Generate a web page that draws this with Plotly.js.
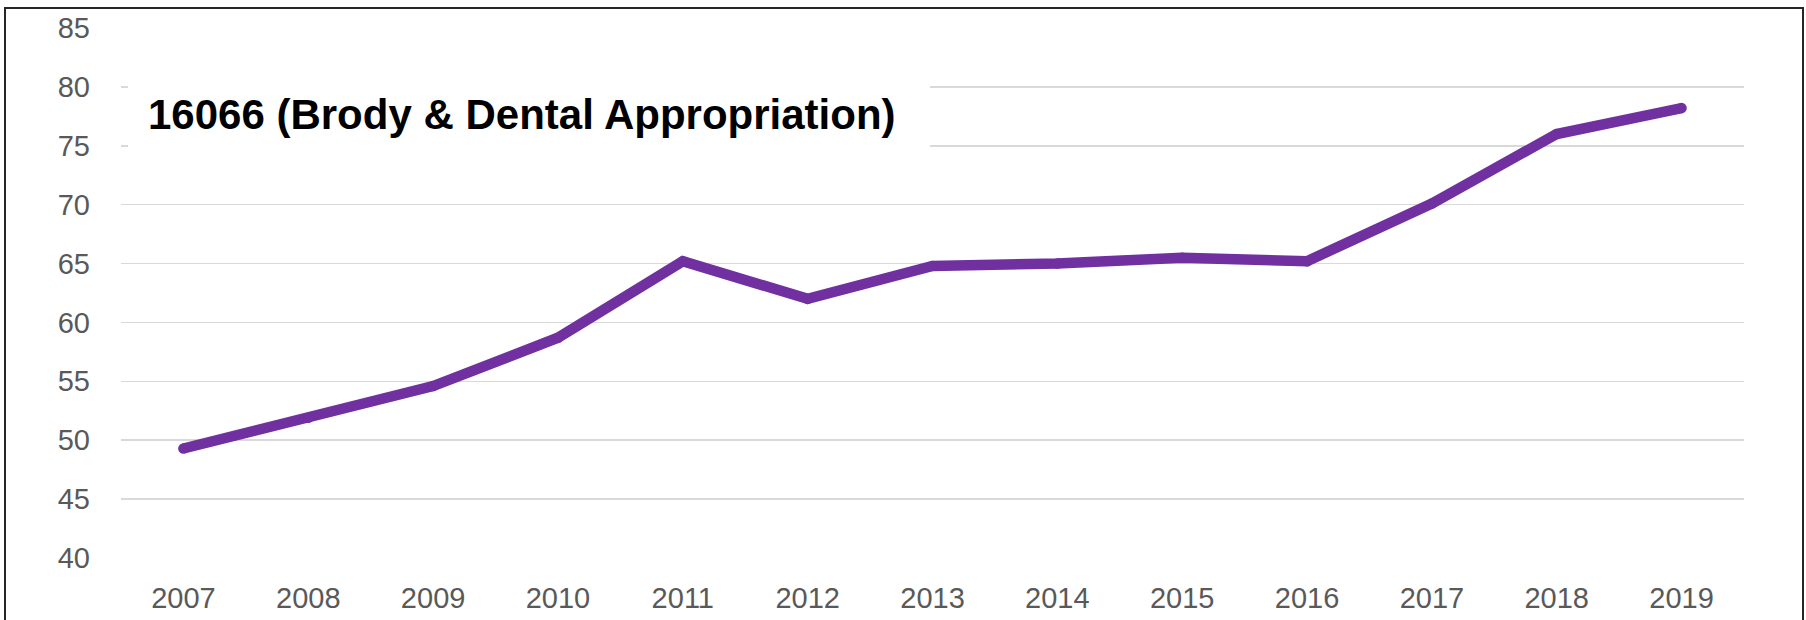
<!DOCTYPE html>
<html>
<head>
<meta charset="utf-8">
<script src="https://cdn.plot.ly/plotly-3.0.1.min.js"></script>
<style>html,body{margin:0;padding:0;background:#fff;}#chart{width:1806px;height:620px;}</style>
</head>
<body>
<div id="chart"></div>
<script>
const years = ['2007','2008','2009','2010','2011','2012','2013','2014','2015','2016','2017','2018','2019'];
const values = [49.3, 51.9, 54.6, 58.7, 65.2, 62.0, 64.8, 65.0, 65.5, 65.2, 70.1, 76.0, 78.2];
const yTicks = [40, 45, 50, 55, 60, 65, 70, 75, 80, 85];
const chartTitle = '16066 (Brody & Dental Appropriation)';

const L = 121, R = 1744, T = 28, B = 558, W = 1806, H = 620;
const pw = R - L, ph = B - T;
const px = x => (x - L) / pw;
const py = y => (B - y) / ph;

const trace = {
  x: years, y: values, type: 'scatter', mode: 'lines+markers',
  line: {color: '#7030A0', width: 10.5},
  marker: {color: '#7030A0', size: 10.5},
  hoverinfo: 'x+y', showlegend: false
};

const layout = {
  width: W, height: H,
  margin: {l: L, r: W - R, t: T, b: H - B, pad: 0},
  paper_bgcolor: '#ffffff', plot_bgcolor: '#ffffff',
  font: {family: 'Liberation Sans, Arial, sans-serif', color: '#595959', size: 29},
  xaxis: {
    type: 'category', range: [-0.5, 12.5], showgrid: false, zeroline: false,
    showline: false, ticks: '', ticklabelstandoff: 20, fixedrange: true,
    tickfont: {size: 29, color: '#595959'}
  },
  yaxis: {
    range: [40, 85], tickvals: yTicks, showgrid: true, gridcolor: '#d9d9d9', gridwidth: 1.5,
    zeroline: false, showline: false, ticks: '', ticklabelstandoff: 30, fixedrange: true,
    tickfont: {size: 29, color: '#595959'}
  },
  shapes: [
    {type: 'rect', xref: 'paper', yref: 'paper', layer: 'above',
     x0: px(128), x1: px(930), y0: py(172), y1: py(60),
     fillcolor: '#ffffff', line: {width: 0}},
    {type: 'rect', xref: 'paper', yref: 'paper', layer: 'above',
     x0: px(5), x1: px(1803), y0: py(700), y1: py(8),
     fillcolor: 'rgba(0,0,0,0)', line: {color: '#262626', width: 2}}
  ],
  annotations: [
    {text: '<b>' + chartTitle.replace('&', '&amp;') + '</b>', xref: 'paper', yref: 'paper',
     x: px(146), y: py(115), xanchor: 'left', yanchor: 'middle', showarrow: false,
     font: {family: 'Liberation Sans, Arial, sans-serif', size: 42, color: '#000000'}}
  ]
};

Plotly.newPlot('chart', [trace], layout, {displayModeBar: false, staticPlot: true});
</script>
</body>
</html>
